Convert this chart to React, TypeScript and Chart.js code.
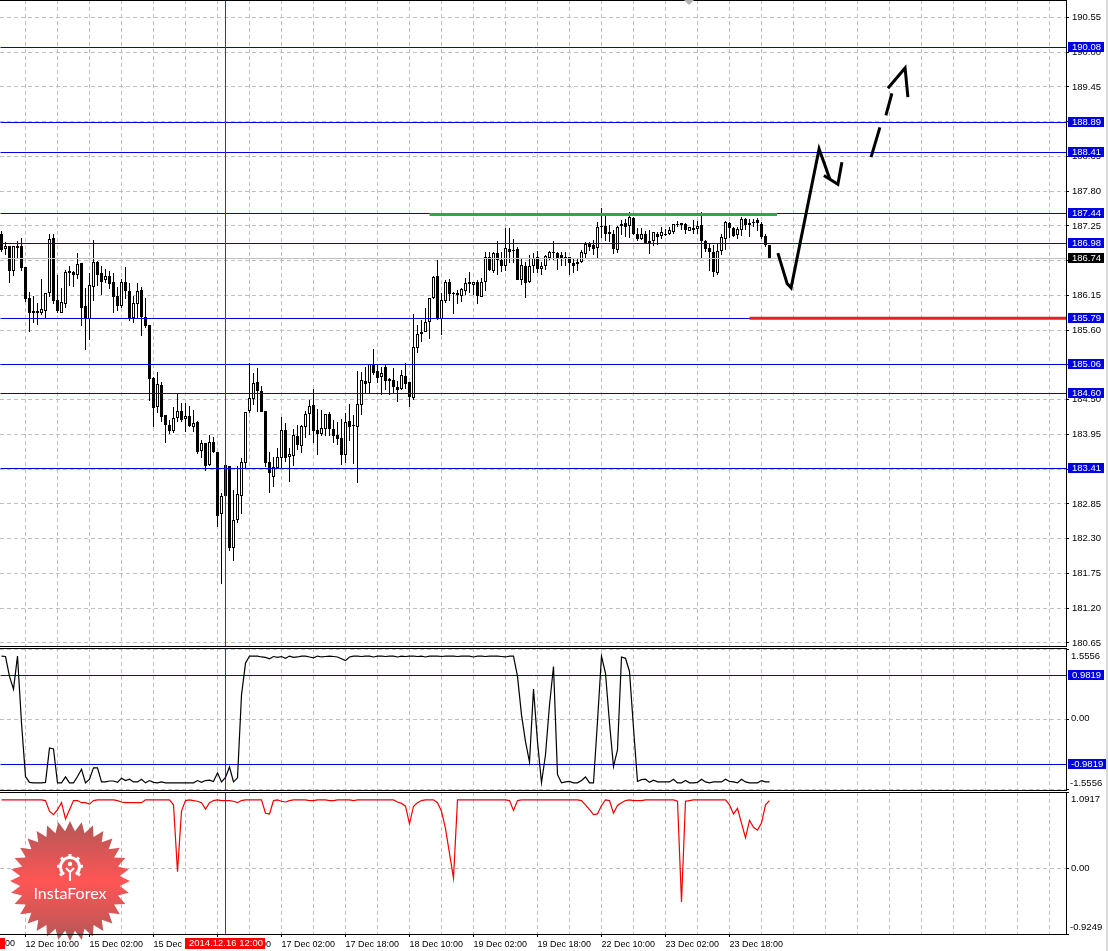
import React, { useEffect, useRef } from "react";
import { Chart, registerables } from "chart.js";

Chart.register(...registerables);

const opens = [187.13,186.88,186.93,186.53,186.93,186.93,186.60,186.11,185.90,185.90,
185.87,185.90,186.19,187.06,186.08,185.88,186.01,186.53,186.52,186.47,
186.66,185.98,185.77,186.28,186.68,186.50,186.39,186.45,186.36,186.14,
185.98,186.37,186.22,185.79,186.01,186.23,185.81,185.69,184.84,184.38,
184.73,184.25,184.10,184.00,184.21,184.32,184.19,184.24,184.06,184.14,
183.68,183.81,183.46,183.83,183.67,182.69,183.46,183.45,182.15,182.59,
182.97,183.49,184.32,184.51,184.78,184.63,184.32,183.52,183.27,183.42,
183.57,184.02,183.59,183.61,183.92,183.76,184.06,184.27,184.41,184.02,
183.95,184.03,184.27,184.03,183.94,183.89,183.62,184.16,184.10,184.06,
184.41,184.79,184.76,185.06,184.95,184.86,185.01,184.82,184.81,184.70,
184.67,184.87,184.78,184.52,185.32,185.54,185.57,185.73,186.11,186.45,
185.77,186.06,186.37,186.19,186.19,186.14,186.22,186.36,186.31,186.36,
186.12,186.36,186.76,186.53,186.82,186.71,186.61,186.88,186.87,186.88,
186.39,186.61,186.36,186.61,186.76,186.57,186.61,186.74,186.83,186.82,
186.79,186.76,186.76,186.66,186.64,186.68,186.80,186.98,186.95,186.90,
187.25,187.25,187.15,187.13,186.87,187.28,187.29,187.25,187.37,187.12,
187.04,187.13,186.98,187.01,187.13,187.09,187.13,187.13,187.15,187.28,
187.29,187.28,187.17,187.21,187.20,187.26,187.01,186.90,186.83,186.50,
186.85,187.04,187.29,187.21,187.10,187.18,187.36,187.29,187.31,187.34,
187.28,187.09,186.95];
const highs = [187.17,187.00,186.93,186.93,187.01,187.06,186.60,186.20,186.14,186.03,
186.41,186.19,187.12,187.12,186.47,186.27,186.55,186.61,186.53,186.82,
186.66,186.27,186.50,187.02,186.69,186.61,186.57,186.53,186.50,186.28,
186.41,186.60,186.34,186.14,186.34,186.28,186.11,185.69,184.86,184.94,
184.78,184.25,184.18,184.38,184.60,184.44,184.44,184.40,184.33,184.16,
183.86,183.81,183.94,183.91,183.67,183.02,183.46,183.45,183.07,183.45,
183.57,184.30,185.08,184.92,185.00,184.71,184.32,183.67,183.59,183.73,
184.22,184.13,183.73,184.03,184.10,184.10,184.32,184.49,184.67,184.35,
184.33,184.27,184.30,184.18,184.14,184.19,184.29,184.43,184.25,184.95,
184.94,185.01,185.06,185.30,185.05,185.01,185.05,184.84,185.00,184.79,
184.97,185.08,184.78,185.85,185.69,185.76,185.95,186.11,186.45,186.71,
186.19,186.39,186.41,186.20,186.23,186.27,186.42,186.52,186.37,186.39,
186.42,186.83,186.83,186.83,187.01,186.83,187.21,187.21,187.04,186.91,
186.74,186.68,186.79,186.82,186.85,186.68,186.79,186.85,187.01,186.83,
186.83,186.83,186.76,186.74,186.74,186.87,187.00,187.00,187.02,187.31,
187.53,187.45,187.26,187.18,187.25,187.34,187.36,187.47,187.39,187.21,
187.21,187.17,187.18,187.15,187.15,187.23,187.20,187.23,187.28,187.33,
187.29,187.29,187.23,187.34,187.33,187.47,187.02,186.98,186.95,186.98,
187.13,187.33,187.31,187.23,187.23,187.39,187.37,187.36,187.36,187.37,
187.31,187.13,186.95];
const lows = [186.83,186.79,186.34,186.45,186.74,186.53,186.04,185.57,185.71,185.68,
185.84,185.77,186.12,186.01,185.87,185.87,185.95,186.30,186.28,186.41,
185.66,185.28,185.44,186.06,186.30,186.15,186.34,186.25,185.87,185.90,
185.95,186.09,185.74,185.71,185.79,185.51,185.63,184.48,184.06,184.29,
184.14,183.81,183.95,183.97,184.14,184.14,183.99,184.06,183.99,183.64,
183.57,183.37,183.45,183.65,182.48,181.59,182.96,182.10,181.94,182.54,
182.69,183.40,184.29,184.41,184.30,184.30,183.43,183.02,183.11,183.40,
183.42,183.51,183.19,183.45,183.70,183.65,183.89,183.94,183.81,183.62,
183.92,183.92,183.92,183.81,183.78,183.46,183.49,183.84,183.48,183.18,
184.25,184.60,184.60,184.89,184.76,184.57,184.65,184.57,184.60,184.46,
184.65,184.67,184.38,184.49,185.24,185.41,185.57,185.46,186.09,185.76,
185.52,186.03,186.06,185.85,186.01,186.04,186.15,186.19,186.15,186.01,
186.12,186.22,186.53,186.50,186.47,186.52,186.53,186.66,186.66,186.39,
186.31,186.11,186.34,186.50,186.50,186.47,186.55,186.71,186.71,186.55,
186.61,186.61,186.47,186.50,186.53,186.66,186.74,186.85,186.79,186.74,
187.06,187.01,187.00,186.80,186.82,187.10,187.07,187.06,187.10,187.01,
187.02,186.96,186.80,186.93,186.95,187.04,187.09,187.10,187.13,187.23,
187.18,187.13,187.17,187.12,187.12,186.72,186.83,186.53,186.44,186.47,
186.79,186.87,187.06,187.07,187.04,187.09,187.18,187.07,187.23,187.17,
187.04,186.91,186.72];
const closes = [186.87,186.93,186.53,186.93,186.90,186.58,186.09,185.87,185.87,185.87,
185.93,186.19,187.04,186.06,185.90,186.04,186.52,186.50,186.47,186.64,
185.95,185.79,186.31,186.68,186.47,186.37,186.45,186.33,186.12,185.98,
186.37,186.22,185.77,186.03,186.22,185.81,185.66,184.82,184.37,184.75,
184.22,184.10,184.00,184.21,184.32,184.18,184.24,184.08,184.13,183.67,
183.81,183.45,183.83,183.67,182.66,182.97,182.97,182.15,182.59,183.00,
183.51,184.30,184.52,184.76,184.63,184.30,183.49,183.34,183.43,183.59,
184.02,183.57,183.64,183.94,183.78,184.08,184.27,184.40,184.00,183.95,
184.05,184.27,184.03,183.92,183.87,183.62,184.14,184.06,184.08,184.43,
184.81,184.75,185.06,184.92,184.84,184.92,184.79,184.79,184.70,184.65,
184.89,184.75,184.54,185.33,185.54,185.57,185.73,186.11,186.44,185.77,
186.08,186.37,186.17,186.17,186.15,186.25,186.34,186.33,186.37,186.14,
186.36,186.76,186.55,186.82,186.71,186.61,186.90,186.83,186.85,186.39,
186.63,186.34,186.61,186.74,186.57,186.61,186.77,186.83,186.82,186.72,
186.72,186.74,186.66,186.61,186.68,186.83,186.96,186.91,186.88,187.23,
187.23,187.12,187.12,186.88,187.23,187.25,187.23,187.39,187.12,187.04,
187.13,186.98,187.01,187.15,187.07,187.15,187.12,187.18,187.28,187.26,
187.26,187.18,187.23,187.18,187.25,187.01,186.88,186.83,186.52,186.85,
187.07,187.31,187.21,187.09,187.20,187.36,187.26,187.26,187.29,187.29,
187.07,186.95,186.72];

const upperOsc = [1.40,1.39,.95,.67,1.40,-.08,-1.26,-1.39,-1.40,-1.40,
-1.40,-1.39,-.63,-.65,-1.40,-1.40,-1.27,-1.40,-1.40,-1.26,
-1.10,-1.40,-1.32,-1.07,-1.07,-1.38,-1.38,-1.36,-1.36,-1.39,
-1.30,-1.35,-1.32,-1.38,-1.38,-1.32,-1.40,-1.35,-1.39,-1.40,
-1.38,-1.40,-1.40,-1.40,-1.40,-1.40,-1.40,-1.40,-1.40,-1.35,
-1.39,-1.35,-1.34,-1.37,-1.18,-1.38,-1.28,-1.05,-1.38,-1.29,
.54,1.24,1.40,1.40,1.40,1.38,1.37,1.34,1.39,1.37,
1.39,1.35,1.40,1.37,1.38,1.40,1.40,1.38,1.36,1.40,
1.38,1.39,1.40,1.39,1.38,1.34,1.30,1.38,1.40,1.40,
1.39,1.40,1.40,1.38,1.40,1.40,1.39,1.40,1.40,1.38,
1.40,1.39,1.40,1.40,1.39,1.40,1.38,1.40,1.40,1.40,
1.39,1.40,1.40,1.40,1.39,1.40,1.40,1.40,1.38,1.40,
1.40,1.39,1.40,1.40,1.40,1.39,1.38,1.40,1.40,.95,
.10,-.49,-.94,.67,-.49,-1.40,-.78,.32,1.17,-1.22,
-1.40,-1.38,-1.37,-1.40,-1.40,-1.35,-1.27,-1.40,-1.40,-.04,
1.40,1.02,-.08,-1.04,-.67,1.38,1.35,1.06,-.19,-1.37,
-1.33,-1.32,-1.39,-1.34,-1.38,-1.38,-1.38,-1.38,-1.32,-1.40,
-1.40,-1.35,-1.40,-1.40,-1.39,-1.32,-1.38,-1.40,-1.38,-1.38,
-1.38,-1.32,-1.37,-1.38,-1.40,-1.32,-1.38,-1.40,-1.40,-1.40,
-1.35,-1.38,-1.38];

const lowerOsc = [.98,.98,.98,.98,.98,.98,.98,.98,.98,.98,
.98,.97,.82,.77,.84,.94,.71,.84,.97,.97,
.94,.94,.92,.97,.98,.98,.98,.98,.98,.97,
.95,.94,.94,.94,.94,.94,.98,.98,.98,.98,
.98,.98,.98,.91,-.04,.82,.97,.98,.97,.96,
.94,.85,.94,.97,.98,.97,.97,.97,.96,.94,
.97,.98,.98,.98,.98,.98,.79,.78,.97,.98,
.96,.95,.97,.98,.98,.98,.98,.97,.97,.98,
.98,.98,.97,.97,.98,.98,.98,.98,.97,.98,
.98,.98,.98,.98,.98,.98,.98,.98,.98,.95,
.93,.89,.64,.89,.94,.97,.98,.98,.98,.94,
.82,.57,.22,-.13,.98,.98,.98,.98,.98,.98,
.98,.98,.98,.98,.98,.98,.98,.97,.83,.97,
.98,.98,.98,.98,.98,.98,.98,.98,.98,.98,
.98,.98,.98,.98,.98,.97,.91,.84,.77,.78,
.90,.98,.97,.79,.90,.94,.97,.98,.97,.97,
.97,.98,.98,.98,.98,.98,.98,.98,.98,.96,
-.47,.96,.97,.98,.98,.98,.98,.98,.98,.98,
.98,.98,.91,.78,.86,.65,.44,.69,.59,.55,
.65,.91,.97];

const priceTicks = [190.55,190.00,189.45,188.90,188.35,187.80,187.25,186.70,186.15,185.60,185.05,184.50,183.95,183.40,182.85,182.30,181.75,181.20,180.65];
const priceLevels = [190.08,188.89,188.41,187.44,186.98,185.79,185.06,184.60,183.41];
const oscLevels = [0.9819,-0.9819];
const lastPrice = 186.74;
const crosshairBar = 56;

const timeTicks: Record<number, string> = {
  6: "12 Dec 10:00", 22: "15 Dec 02:00", 38: "15 Dec 18:00", 54: "16 Dec 10:00",
  70: "17 Dec 02:00", 86: "17 Dec 18:00", 102: "18 Dec 10:00", 118: "19 Dec 02:00",
  134: "19 Dec 18:00", 150: "22 Dec 10:00", 166: "23 Dec 02:00", 182: "23 Dec 18:00",
};
const gridBars = [6,14,22,30,38,46,54,62,70,78,86,94,102,110,118,126,134,142,150,158,166,174,182,190,198,206,214,222,230,238,246,254,262];

const forecastMain = [[194.1,186.82],[195.2,186.59],[196.4,186.34],[197.4,186.27],[204.4,188.47],[207.1,187.99]];
const forecastHead1 = [[205.6,188.05],[209.1,187.91],[210.1,188.26]];
const forecastDash1 = [[217.4,188.34],[219.6,188.81]];
const forecastDash2 = [[221.1,189.00],[222.6,189.35]];
const forecastHead2 = [[221.6,189.43],[225.9,189.75],[226.6,189.29]];
const greenLine = [[107,187.43],[193.9,187.43]];
const redLine = [[187,185.79],[266.125,185.79]];

const X_MIN = -0.375;
const X_MAX = 266.125;
const UPPER_MAX = 1.578;
const UPPER_MIN = -1.5585;
const FONT_FAMILY = "'Liberation Sans', sans-serif";
const FONT_SIZE = 9.5;
const TIME_FONT_SIZE = 9;
const GRID = "#c0c0c0";
const BLUE = "#0000e6";

function xAxis(extra: any = {}) {
  return {
    type: "linear", min: X_MIN, max: X_MAX, offset: false,
    afterBuildTicks: (s: any) => { s.ticks = gridBars.map((v) => ({ value: v })); },
    afterFit: (s: any) => { s.paddingLeft = 0; s.paddingRight = 0; if (extra.fitHeight != null) s.height = extra.fitHeight; },
    grid: { color: GRID, offset: false, drawTicks: !!extra.labels, tickLength: 3, tickBorderDash: [],
      tickColor: (c: any) => (timeTicks[c.tick?.value] ? "#000" : "rgba(0,0,0,0)") },
    border: { display: false, dash: [4, 3] },
    ticks: extra.labels
      ? { display: true, autoSkip: false, maxRotation: 0, minRotation: 0, align: "start", padding: 2, color: "#000", z: 1,
          font: { family: FONT_FAMILY, size: TIME_FONT_SIZE }, callback: (v: number) => timeTicks[v] || "" }
      : { display: false },
  };
}

function yAxis(min: number, max: number, ticks: number[], showLabels: boolean) {
  return {
    type: "linear", position: "right", min, max,
    afterBuildTicks: (s: any) => { s.ticks = ticks.map((v) => ({ value: v })); },
    afterFit: (s: any) => { s.width = 42; s.paddingTop = 0; s.paddingBottom = 0; },
    grid: { color: GRID, tickColor: "#000", tickLength: 3, tickBorderDash: [] },
    border: { display: false, dash: [4, 3] },
    ticks: { autoSkip: false, padding: 3, color: "#000", font: { family: FONT_FAMILY, size: FONT_SIZE },
      callback: (v: number) => (showLabels ? v.toFixed(2) : "") },
  };
}

function lineDs(points: number[][], color: string, width: number, crisp: any = false, order = 1) {
  return { type: "line", data: points.map(([x, y]) => ({ x, y })), borderColor: color, borderWidth: width,
    pointRadius: 0, tension: 0, fill: false, order, crisp };
}

const crispPlugin = {
  id: "crisp",
  afterDatasetsUpdate(chart: any) {
    chart.data.datasets.forEach((ds: any, i: number) => {
      const meta = chart.getDatasetMeta(i);
      if (ds.type === "bar") {
        meta.data.forEach((el: any) => {
          el.y = Math.round(el.y);
          el.base = Math.round(el.base);
          if (el.y === el.base) el.base += 1;
        });
      } else if (ds.crisp) {
        const fn = ds.crisp === "round" ? Math.round : Math.floor;
        meta.data.forEach((el: any) => { el.y = fn(el.y) + 0.5; el.x = Math.floor(el.x) + 0.5; });
      }
    });
  },
};

function tag(ctx: any, y: number, text: string, bg: string, right = 1104) {
  ctx.fillStyle = bg;
  ctx.fillRect(1068, y - 6, right - 1068, 10);
  ctx.fillStyle = "#fff";
  ctx.font = `${FONT_SIZE}px ${FONT_FAMILY}`;
  ctx.textAlign = "left";
  ctx.textBaseline = "middle";
  ctx.fillText(text, right > 1104 ? 1071 : 1072, y - 1);
}

function label(ctx: any, x: number, y: number, text: string, color = "#000", size = FONT_SIZE) {
  ctx.fillStyle = color;
  ctx.font = `${size}px ${FONT_FAMILY}`;
  ctx.textAlign = "left";
  ctx.textBaseline = "middle";
  ctx.fillText(text, x, y);
}

function frame(ctx: any, bottom: number, top: number) {
  ctx.fillStyle = "#000";
  ctx.fillRect(0, top, 1067, 1);
  ctx.fillRect(0, bottom, 1067, 1);
  ctx.fillRect(1066, top, 1, bottom - top + 1);
}

const mainOverlay = {
  id: "mainOverlay",
  afterDraw(chart: any) {
    const { ctx, scales } = chart;
    ctx.save();
    frame(ctx, 646, 0);
    ctx.fillStyle = "#b0b0b0";
    ctx.beginPath();
    ctx.moveTo(684, 0); ctx.lineTo(694, 0); ctx.lineTo(689, 5); ctx.closePath(); ctx.fill();
    priceLevels.forEach((p) => {
      tag(ctx, Math.floor(scales.y.getPixelForValue(p)) + 1, p.toFixed(2), BLUE);
    });
    tag(ctx, Math.floor(scales.y.getPixelForValue(lastPrice)) + 1, lastPrice.toFixed(2), "#000");
    ctx.restore();
  },
};

const upperOverlay = {
  id: "upperOverlay",
  afterDraw(chart: any) {
    const { ctx, scales } = chart;
    ctx.save();
    frame(ctx, 142, 0);
    label(ctx, 1071, 8, "1.5556");
    label(ctx, 1071, 70, "0.00");
    label(ctx, 1070, 135, "-1.5556");
    tag(ctx, Math.round(scales.y.getPixelForValue(oscLevels[0])) + 1, oscLevels[0].toFixed(4), BLUE);
    tag(ctx, Math.round(scales.y.getPixelForValue(oscLevels[1])) + 1, oscLevels[1].toFixed(4), BLUE, 1106);
    ctx.restore();
  },
};

function drawBadge(ctx: any, oy: number) {
  const cx = 70, cy = 881 - oy;
  const g = ctx.createLinearGradient(0, cy - 60, 0, cy + 60);
  g.addColorStop(0, "#b05252");
  g.addColorStop(0.5, "#ff4f4f");
  g.addColorStop(1, "#b05252");
  ctx.save();
  ctx.globalAlpha = 0.97;
  ctx.fillStyle = g;
  ctx.beginPath();
  const n = 32;
  for (let i = 0; i < n * 2; i++) {
    const r = i % 2 === 0 ? 60 : 50;
    const a = (i / (n * 2)) * Math.PI * 2 - Math.PI / 2;
    const px = cx + Math.cos(a) * r, py = cy + Math.sin(a) * r;
    if (i === 0) ctx.moveTo(px, py); else ctx.lineTo(px, py);
  }
  ctx.closePath();
  ctx.fill();
  ctx.globalAlpha = 1;
  ctx.strokeStyle = "#fff";
  ctx.fillStyle = "#fff";
  const gy = cy - 14;
  ctx.lineWidth = 3;
  ctx.beginPath();
  ctx.arc(cx, gy, 9.5, Math.PI * 0.72, Math.PI * 2.28);
  ctx.stroke();
  for (let i = 0; i < 7; i++) {
    const a = Math.PI * 0.78 + (i / 6) * Math.PI * 1.44;
    ctx.beginPath();
    ctx.moveTo(cx + Math.cos(a) * 10, gy + Math.sin(a) * 10);
    ctx.lineTo(cx + Math.cos(a) * 13, gy + Math.sin(a) * 13);
    ctx.stroke();
  }
  ctx.beginPath();
  ctx.arc(cx, gy - 3, 2.2, 0, Math.PI * 2);
  ctx.fill();
  ctx.lineWidth = 2;
  ctx.beginPath();
  ctx.moveTo(cx - 4, gy + 1);
  ctx.lineTo(cx, gy + 5);
  ctx.lineTo(cx + 4, gy + 1);
  ctx.moveTo(cx, gy + 4);
  ctx.lineTo(cx, gy + 14);
  ctx.stroke();
  ctx.font = "16px Lato, sans-serif";
  ctx.textAlign = "center";
  ctx.textBaseline = "middle";
  ctx.fillText("InstaForex", cx, 894 - oy);
  ctx.restore();
}

const lowerOverlay = {
  id: "lowerOverlay",
  beforeDatasetsDraw(chart: any) {
    drawBadge(chart.ctx, 792);
  },
  afterDraw(chart: any) {
    const { ctx } = chart;
    ctx.save();
    frame(ctx, 142, 0);
    label(ctx, 1071, 7, "1.0917");
    label(ctx, 1071, 76, "0.00");
    label(ctx, 1070, 135, "-0.9249");
    ctx.fillStyle = "#f00";
    ctx.fillRect(185, 146, 80, 11);
    ctx.fillRect(0, 146, 5, 11);
    label(ctx, 189, 151.5, "2014.12.16 12:00", "#fff");
    label(ctx, 5, 151.5, "00", "#000", TIME_FONT_SIZE);
    ctx.restore();
  },
};

function useChart(config: () => any) {
  const ref = useRef<HTMLCanvasElement | null>(null);
  useEffect(() => {
    const chart = new Chart(ref.current as any, config());
    return () => chart.destroy();
  }, []);
  return ref;
}

const baseOptions = {
  responsive: false, animation: false, maintainAspectRatio: false,
  plugins: { legend: { display: false }, tooltip: { enabled: false }, title: { display: false } },
};

const bars = opens.map((_, i) => i);

function mainConfig() {
  const level = (p: number, color = BLUE) => lineDs([[X_MIN, p], [X_MAX, p]], color, 1, true, 1.5);
  const yMax = 190.55 + 17.5 / 63.17;
  const yMin = yMax - 646 / 63.17;
  return {
    type: "bar",
    data: {
      datasets: [
        { type: "bar", label: "wick", data: bars.map((i) => ({ x: i, y: [lows[i], highs[i]] })),
          backgroundColor: "#000", borderWidth: 0, barThickness: 1, barPercentage: 1, categoryPercentage: 1,
          grouped: false, inflateAmount: 0, order: 3 },
        { type: "bar", label: "body", data: bars.map((i) => ({ x: i, y: [opens[i], closes[i]] })),
          backgroundColor: bars.map((i) => (closes[i] > opens[i] ? "#fff" : "#000")),
          borderColor: "#000", borderWidth: 1, borderSkipped: false, barThickness: 3, barPercentage: 1,
          categoryPercentage: 1, grouped: false, inflateAmount: 0, order: 2 },
        ...priceLevels.map((p) => level(p)),
        level(lastPrice, GRID),
        lineDs([[crosshairBar, yMin], [crosshairBar, yMax]], "#e00000", 1, true, 1.2),
        lineDs(greenLine, "#22ac4c", 3),
        lineDs(redLine, "#ed1c24", 3),
        lineDs(forecastMain, "#000", 3),
        lineDs(forecastHead1, "#000", 3),
        lineDs(forecastDash1, "#000", 3),
        lineDs(forecastDash2, "#000", 3),
        lineDs(forecastHead2, "#000", 3),
      ],
    },
    options: {
      ...baseOptions,
      layout: { padding: { top: 0, bottom: 1, left: 0, right: 0 } },
      scales: { x: xAxis(), y: yAxis(yMin, yMax, priceTicks, true) },
    },
    plugins: [crispPlugin, mainOverlay],
  };
}

function upperConfig() {
  return {
    type: "line",
    data: {
      datasets: [
        lineDs(bars.map((i) => [i, upperOsc[i]]), "#000", 1.2),
        ...oscLevels.map((v) => lineDs([[X_MIN, v], [X_MAX, v]], BLUE, 1, "round")),
        lineDs([[crosshairBar, UPPER_MIN], [crosshairBar, UPPER_MAX]], "#e00000", 1, true),
      ],
    },
    options: {
      ...baseOptions,
      layout: { padding: { top: 0, bottom: 1, left: 0, right: 0 } },
      scales: { x: xAxis(), y: yAxis(UPPER_MIN, UPPER_MAX, [1.5556, 0, -1.5556], false) },
    },
    plugins: [crispPlugin, upperOverlay],
  };
}

function lowerConfig() {
  return {
    type: "line",
    data: {
      datasets: [
        lineDs(bars.map((i) => [i, lowerOsc[i]]), "#f00000", 1.2),
        lineDs([[crosshairBar, -0.9249], [crosshairBar, 1.0917]], "#e00000", 1, true),
      ],
    },
    options: {
      ...baseOptions,
      layout: { padding: { top: 0, bottom: 0, left: 0, right: 0 } },
      scales: { x: xAxis({ labels: true, fitHeight: 17 }), y: yAxis(-0.9249, 1.0917, [1.0917, 0, -0.9249], false) },
    },
    plugins: [crispPlugin, lowerOverlay],
  };
}

export default function App() {
  const mainRef = useChart(mainConfig);
  const upperRef = useChart(upperConfig);
  const lowerRef = useChart(lowerConfig);
  const abs = (top: number): React.CSSProperties => ({ position: "absolute", left: 0, top, display: "block" });
  return (
    <div style={{ position: "absolute", left: 0, top: 0, width: 1108, height: 951, background: "#fff", overflow: "hidden" }}>
      <canvas ref={mainRef} width={1108} height={647} style={abs(0)} />
      <canvas ref={upperRef} width={1108} height={143} style={abs(648)} />
      <canvas ref={lowerRef} width={1108} height={159} style={abs(792)} />
      <div style={{ position: "absolute", left: 1106, top: 0, width: 2, height: 951, background: "#d8d8d8" }} />
    </div>
  );
}
